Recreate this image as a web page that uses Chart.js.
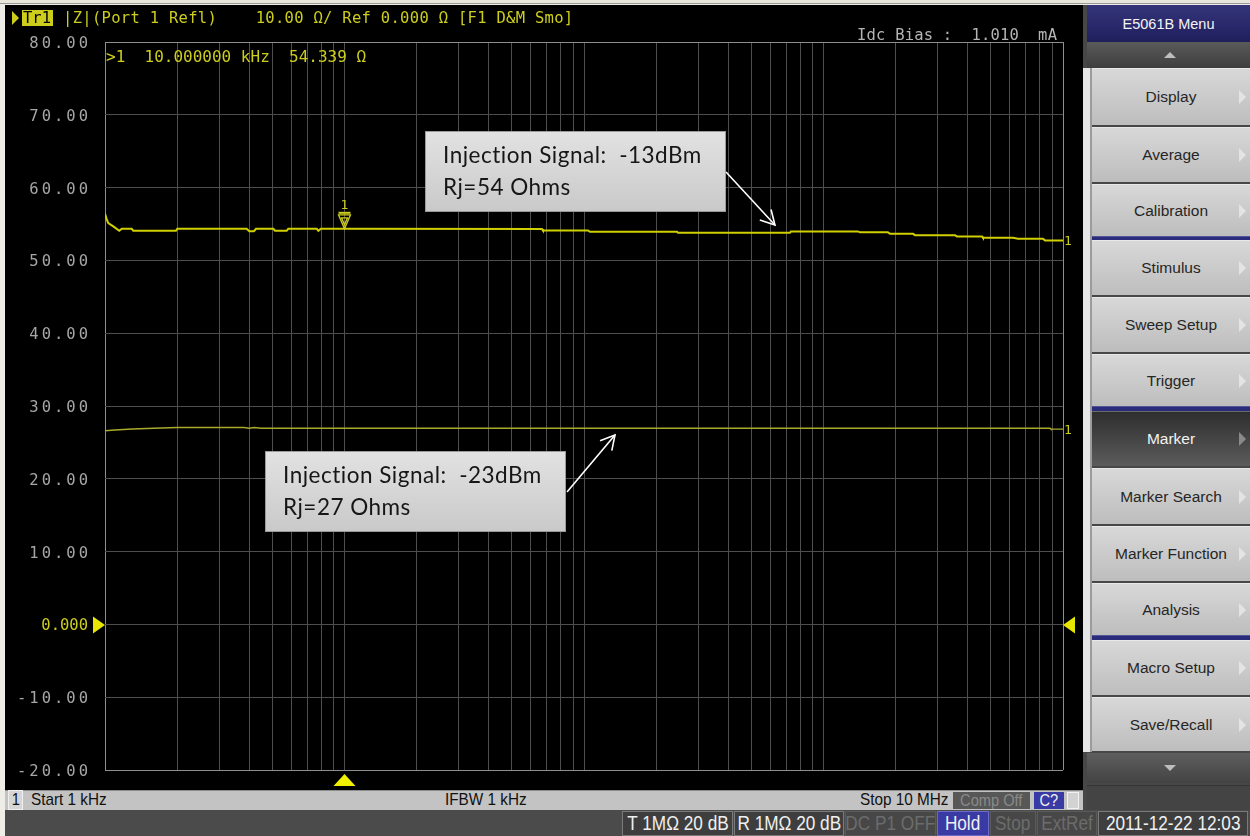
<!DOCTYPE html>
<html>
<head>
<meta charset="utf-8">
<title>|Z| (Port 1 Refl)</title>
<script src="https://cdn.jsdelivr.net/npm/chart.js@4.4.1/dist/chart.umd.min.js"></script>
<style>
  html, body { margin: 0; padding: 0; }
  body { width: 1250px; height: 836px; position: relative; overflow: hidden; background: #efede8;
         font-family: "Liberation Sans", Arial, sans-serif; }
  .abs { position: absolute; box-sizing: border-box; }
  #screen { left: 5px; top: 5px; width: 1078px; height: 785px; background: #000; }
  #screen canvas { position: absolute; left: 0; top: 0; }
  .n { display: inline-block; white-space: nowrap; transform: scaleX(0.86); transform-origin: center center; }
  .nl { display: inline-block; white-space: nowrap; transform: scaleX(0.9); transform-origin: left center; }
  .btn { left: 1092px; width: 158px; background: linear-gradient(#d8d8d8, #bdbdbd); color: #262626;
         font-size: 15.5px; display: flex; align-items: center; justify-content: center;
         border-top: 1px solid #e8e8e8; }
  .btn.sel { background: linear-gradient(#2e2e2e, #5c5c5c); color: #f2f2f2; border-top: 1px solid #6a6a6a; }
  .btn .tri { position: absolute; right: 4px; top: 50%; margin-top: -7px; width: 0; height: 0;
              border-left: 7px solid #e4e4e4; border-top: 7px solid transparent; border-bottom: 7px solid transparent; }
  .btn.sel .tri { border-left-color: #8a8a8a; }
  .bsep { left: 1092px; width: 158px; background: #2b2b7c; border-top: 1px solid #55559a; }
  .stat { top: 790px; height: 20px; display: flex; align-items: center; font-size: 17px; color: #111; white-space: nowrap; }
  .cell { top: 811px; height: 25px; display: flex; align-items: center; justify-content: center; font-size: 20px;
          color: #f0f0f0; white-space: nowrap; border: 1px solid #7a7a7a; background: #3e3e3e; overflow: hidden; }
  .cell.dim { color: #6c6c6c; border-color: #5a5a5a; background: #474747; }
  .cell.blue { background: #3a3aa4; border-color: #6a6ac8; }
</style>
</head>
<body>
<div class="abs" style="left:0;top:0;width:1250px;height:4px;background:#e9e6dc;border-bottom:1px solid #9a9a9a;"></div>
<div id="screen" class="abs"><canvas id="chart" width="1078" height="785"></canvas></div>

<!-- soft-key menu -->
<div class="abs" style="left:1083px;top:5px;width:167px;height:805px;background:#474747;"></div>
<div class="abs" style="left:1083px;top:68px;width:9px;height:684px;background:#e6e6e6;border-right:2px solid #9c9c9c;"></div>
<div class="abs" style="left:1087px;top:5px;width:163px;height:37px;background:linear-gradient(#34347a,#1f1f5e);color:#f4f4f4;font-size:14.5px;display:flex;align-items:center;justify-content:center;">E5061B Menu</div>
<div class="abs" style="left:1087px;top:42px;width:163px;height:26px;background:linear-gradient(#5a5a5a,#3e3e3e);"></div>
<div class="abs" style="left:1164px;top:52px;width:0;height:0;border-left:6px solid transparent;border-right:6px solid transparent;border-bottom:6px solid #bdbdbd;"></div>
<div id="menu"></div>
<div class="abs" style="left:1087px;top:753px;width:163px;height:30px;background:linear-gradient(#5e5e5e,#434343);"></div>
<div class="abs" style="left:1164px;top:765px;width:0;height:0;border-left:6px solid transparent;border-right:6px solid transparent;border-top:6px solid #bdbdbd;"></div>
<div class="abs" style="left:1087px;top:785px;width:163px;height:25px;background:#444;border-top:1px solid #333;"></div>

<!-- channel status bar -->
<div class="abs" style="left:5px;top:790px;width:1078px;height:21px;background:#c3c3c3;border-top:1px solid #8c8c8c;"></div>
<div class="abs stat" style="left:8px;width:15px;justify-content:center;background:#d6d6d6;border:1px solid #efefef;"><span class="n">1</span></div>
<div class="abs stat" style="left:31px;"><span class="nl">Start 1 kHz</span></div>
<div class="abs stat" style="left:445px;"><span class="nl">IFBW 1 kHz</span></div>
<div class="abs stat" style="left:860px;"><span class="nl">Stop 10 MHz</span></div>
<div class="abs stat" style="left:953px;top:792px;height:17px;width:77px;justify-content:center;background:#575757;color:#8a8a8a;"><span class="n">Comp Off</span></div>
<div class="abs stat" style="left:1034px;top:792px;height:17px;width:30px;justify-content:center;background:#3a3aa4;color:#f0f0f0;"><span class="n">C?</span></div>
<div class="abs" style="left:1067px;top:792px;width:12px;height:17px;background:#d2d2d2;border:1px solid #f2f2f2;"></div>

<!-- instrument status bar -->
<div class="abs" style="left:5px;top:810px;width:1245px;height:26px;background:#4b4b4b;"></div>
<div class="abs cell" style="left:622px;width:111px;"><span class="n">T 1MΩ 20 dB</span></div>
<div class="abs cell" style="left:734px;width:110px;"><span class="n">R 1MΩ 20 dB</span></div>
<div class="abs cell dim" style="left:845px;width:91px;"><span class="n">DC P1 OFF</span></div>
<div class="abs cell blue" style="left:937px;width:52px;"><span class="n">Hold</span></div>
<div class="abs cell dim" style="left:990px;width:46px;"><span class="n">Stop</span></div>
<div class="abs cell dim" style="left:1037px;width:60px;"><span class="n">ExtRef</span></div>
<div class="abs cell" style="left:1098px;width:150px;"><span class="n">2011-12-22 12:03</span></div>

<script>
// ---- measured trace data (frequency in Hz, |Z| in ohms) ----
const upperFreqHz = [1000, 1016, 1032, 1083, 1147, 1175, 1292, 1313, 1978, 2004, 3904, 4003, 4187, 4270,
  5044, 5126, 5734, 5823, 7660, 7778, 7963, 10000, 66800, 67400, 103900, 105900, 244500, 246800,
  724500, 731000, 1393000, 1419000, 1858000, 1896000, 2365000, 2411000, 3540000, 3608000,
  4590000, 4634000, 6185000, 6490000, 8249000, 8408000, 10000000];
const upperOhm = [56.40, 55.67, 55.12, 54.67, 54.07, 54.34, 54.34, 54.07, 54.07, 54.34, 54.34, 54.02, 54.02, 54.34,
  54.34, 54.07, 54.07, 54.34, 54.34, 54.07, 54.34, 54.339, 54.30, 54.11, 54.11, 53.93, 53.93, 53.79,
  53.79, 53.98, 53.98, 53.85, 53.85, 53.65, 53.65, 53.47, 53.47, 53.30,
  53.30, 53.10, 53.10, 52.97, 52.97, 52.75, 52.75];

const lowerFreqHz = [1000, 1100, 1300, 1600, 2000, 3800, 4000, 4200, 4500, 8830000, 8900000, 10000000];
const lowerOhm    = [26.60, 26.70, 26.85, 26.95, 27.05, 27.05, 26.95, 27.05, 26.95, 26.95, 26.82, 26.82];

// marker 1 readout
const markerFreqHz = 10000;
const markerOhm = 54.339;

// axes
const yTickValues = [-20, -10, 0, 10, 20, 30, 40, 50, 60, 70, 80];
const yTickLabels = ['-20.00', '-10.00', '0.000', '10.00', '20.00', '30.00', '40.00', '50.00', '60.00', '70.00', '80.00'];
const gridDecades = [1e3, 1e4, 1e5, 1e6];
const gridMultipliers = [1, 2, 3, 4, 5, 6, 7, 8, 9];
const gridFreqs = gridDecades.flatMap(d => gridMultipliers.map(m => m * d)).concat([1e7]);

// annotation callouts: text, box (canvas px) and the point on the trace the arrow reaches
const callouts = [
  { lines: ['Injection Signal:  -13dBm', 'Rj=54 Ohms'], box: [420, 126, 301, 81], tail: [721, 167], tipFreqHz: 627000, tipOhm: 54.86 },
  { lines: ['Injection Signal:  -23dBm', 'Rj=27 Ohms'], box: [260, 446, 301, 81], tail: [562, 487], tipFreqHz: 134700, tipOhm: 26.02 }
];

const YEL = '#cdcd1e';
const GRID = '#4e4e4e';
const FRAME = '#8e8e8e';

// soft-key menu
const menuItems = [
  ['Display', 68, 57], ['Average', 127, 55], ['Calibration', 184, 52], ['Stimulus', 240, 55],
  ['Sweep Setup', 297, 55], ['Trigger', 354, 52], ['Marker', 411, 55], ['Marker Search', 468, 56],
  ['Marker Function', 526, 55], ['Analysis', 583, 52], ['Macro Setup', 640, 55], ['Save/Recall', 697, 54]
];
const menuGroupBreaks = [[236, 4], [406, 5], [635, 5]];
const menu = document.getElementById('menu');
menuItems.forEach(([label, top, h]) => {
  const d = document.createElement('div');
  d.className = 'abs btn' + (label === 'Marker' ? ' sel' : '');
  d.style.top = top + 'px'; d.style.height = h + 'px';
  d.textContent = label;
  const t = document.createElement('span'); t.className = 'tri'; d.appendChild(t);
  menu.appendChild(d);
});
menuGroupBreaks.forEach(([top, h]) => {
  const d = document.createElement('div');
  d.className = 'abs bsep'; d.style.top = top + 'px'; d.style.height = h + 'px';
  menu.appendChild(d);
});

function tri(ctx, pts, fill) {
  ctx.beginPath();
  ctx.moveTo(pts[0][0], pts[0][1]);
  for (let i = 1; i < pts.length; i++) ctx.lineTo(pts[i][0], pts[i][1]);
  ctx.closePath();
  if (fill) ctx.fill(); else ctx.stroke();
}

const analyzerOverlay = {
  id: 'analyzerOverlay',
  afterDraw(chart) {
    const ctx = chart.ctx;
    const xs = chart.scales.x, ys = chart.scales.y, area = chart.chartArea;
    ctx.save();

    // y tick labels
    ctx.textAlign = 'right';
    ctx.textBaseline = 'middle';
    ctx.font = '15.5px "DejaVu Sans Mono", monospace';
    ys.ticks.forEach(t => {
      const zero = t.value === 0;
      ctx.letterSpacing = zero ? '0px' : '3px';
      ctx.fillStyle = zero ? YEL : '#a6a6a6';
      ctx.fillText(t.label, 83 + (zero ? 0 : 3), ys.getPixelForValue(t.value) + 2);
    });
    ctx.letterSpacing = '0px';

    // trace title line
    ctx.fillStyle = YEL;
    tri(ctx, [[7, 6], [7, 20], [14, 13]], true);
    ctx.fillRect(17, 5, 31, 16);
    ctx.textAlign = 'left';
    ctx.textBaseline = 'alphabetic';
    ctx.font = '15.5px "DejaVu Sans Mono", monospace';
    ctx.fillStyle = '#000';
    ctx.fillText('Tr1', 18, 18);
    ctx.fillStyle = YEL;
    ctx.letterSpacing = '0.3px';
    ctx.fillText('|Z|(Port 1 Refl)    10.00 \u03A9/ Ref 0.000 \u03A9 [F1 D&M Smo]', 58, 18);
    ctx.letterSpacing = '0px';

    // marker readout
    ctx.font = '16px "DejaVu Sans Mono", monospace';
    ctx.fillText('>1  ' + (markerFreqHz / 1000).toFixed(6) + ' kHz  ' + markerOhm.toFixed(3) + ' \u03A9', 101, 57);

    // bias readout
    ctx.fillStyle = '#b4b4b4';
    ctx.font = '15.5px "DejaVu Sans Mono", monospace';
    ctx.letterSpacing = '0.2px';
    ctx.fillText('Idc Bias :  1.010  mA', 852, 35);
    ctx.letterSpacing = '0px';

    // stimulus reference triangles at 0 ohm
    const y0 = ys.getPixelForValue(0);
    ctx.fillStyle = '#e6e600';
    tri(ctx, [[area.left - 12, y0 - 8], [area.left - 12, y0 + 9], [area.left, y0 + 0.5]], true);
    tri(ctx, [[area.right + 12, y0 - 8], [area.right + 12, y0 + 9], [area.right, y0 + 0.5]], true);

    // marker 1 on the trace
    const mx = xs.getPixelForValue(markerFreqHz), my = ys.getPixelForValue(markerOhm);
    ctx.strokeStyle = YEL; ctx.fillStyle = YEL; ctx.lineWidth = 1.3;
    tri(ctx, [[mx - 6, my - 14], [mx + 6, my - 14], [mx, my]]);
    tri(ctx, [[mx - 3, my - 11], [mx + 3, my - 11], [mx, my - 4]]);
    ctx.fillRect(mx - 6, my - 17, 12, 2);
    ctx.font = '13px "DejaVu Sans Mono", monospace';
    ctx.textAlign = 'center';
    ctx.textBaseline = 'middle';
    ctx.fillText('1', mx, my - 23);

    // active marker position below the grid
    ctx.fillStyle = '#f0f000';
    tri(ctx, [[mx - 11, area.bottom + 16], [mx + 11, area.bottom + 16], [mx, area.bottom + 4]], true);

    // trace numbers at the right edge
    ctx.fillStyle = YEL;
    ctx.textAlign = 'left';
    ctx.font = '13px "DejaVu Sans Mono", monospace';
    chart.data.datasets.forEach(ds => {
      const last = ds.data[ds.data.length - 1];
      ctx.fillText('1', area.right + 1, ys.getPixelForValue(last.y) + 1);
    });

    // callouts
    callouts.forEach(c => {
      const [bx, by, bw, bh] = c.box;
      const g = ctx.createLinearGradient(0, by, 0, by + bh);
      g.addColorStop(0, '#e2e2e2');
      g.addColorStop(1, '#c9c9c9');
      ctx.fillStyle = g;
      ctx.fillRect(bx, by, bw, bh);
      ctx.strokeStyle = '#9a9a9a';
      ctx.lineWidth = 1;
      ctx.strokeRect(bx + 0.5, by + 0.5, bw - 1, bh - 1);
      ctx.fillStyle = '#161616';
      ctx.font = '22.5px Lato, "Open Sans", sans-serif';
      ctx.letterSpacing = '0.5px';
      ctx.textAlign = 'left';
      ctx.textBaseline = 'alphabetic';
      c.lines.forEach((s, i) => ctx.fillText(s, bx + 18, by + 32 + i * 32));
      ctx.letterSpacing = '0px';

      const tx = xs.getPixelForValue(c.tipFreqHz), ty = ys.getPixelForValue(c.tipOhm);
      const [sx, sy] = c.tail;
      ctx.strokeStyle = '#ffffff';
      ctx.lineWidth = 1.6;
      ctx.beginPath(); ctx.moveTo(sx, sy); ctx.lineTo(tx, ty); ctx.stroke();
      const a = Math.atan2(ty - sy, tx - sx), L = 16, w = 0.5;
      ctx.beginPath();
      ctx.moveTo(tx - L * Math.cos(a - w), ty - L * Math.sin(a - w));
      ctx.lineTo(tx, ty);
      ctx.lineTo(tx - L * Math.cos(a + w), ty - L * Math.sin(a + w));
      ctx.stroke();
    });

    ctx.restore();
  }
};

const edgeColor = (v, lo, hi) => (v === lo || v === hi) ? FRAME : GRID;

new Chart(document.getElementById('chart'), {
  type: 'line',
  data: {
    datasets: [
      { data: upperFreqHz.map((f, i) => ({ x: f, y: upperOhm[i] })), borderColor: '#d0d000', borderWidth: 2, pointRadius: 0, tension: 0 },
      { data: lowerFreqHz.map((f, i) => ({ x: f, y: lowerOhm[i] })), borderColor: '#a9a92c', borderWidth: 1.4, pointRadius: 0, tension: 0 }
    ]
  },
  options: {
    responsive: false,
    animation: false,
    devicePixelRatio: 1,
    layout: { padding: { left: 0, top: 37, right: 20, bottom: 20 } },
    plugins: { legend: { display: false }, tooltip: { enabled: false } },
    scales: {
      x: {
        type: 'logarithmic', min: 1e3, max: 1e7,
        afterBuildTicks: s => { s.ticks = gridFreqs.map(v => ({ value: v })); },
        afterFit: s => { s.height = 0; },
        ticks: { display: false, autoSkip: false },
        grid: { drawTicks: false, lineWidth: 1, color: c => edgeColor(c.tick && c.tick.value, 1e3, 1e7) },
        border: { display: false }
      },
      y: {
        type: 'linear', min: -20, max: 80,
        afterBuildTicks: s => { s.ticks = yTickValues.map(v => ({ value: v })); },
        afterFit: s => { s.width = 100; },
        ticks: { display: false, autoSkip: false, callback: v => yTickLabels[yTickValues.indexOf(v)] },
        grid: { drawTicks: false, lineWidth: 1, color: c => edgeColor(c.tick && c.tick.value, -20, 80) },
        border: { display: false }
      }
    }
  },
  plugins: [analyzerOverlay]
});
</script>
</body>
</html>
